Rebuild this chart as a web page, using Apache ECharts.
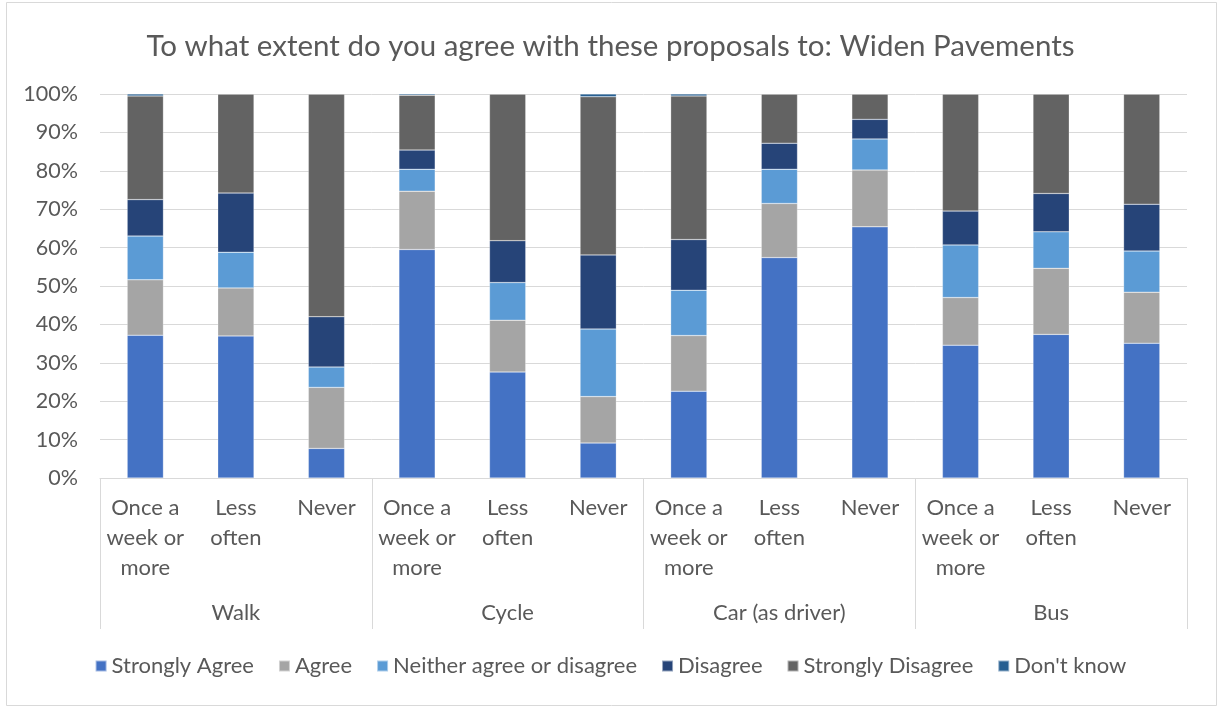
<!DOCTYPE html>
<html>
<head>
<meta charset="utf-8">
<script src="https://cdn.jsdelivr.net/npm/echarts@6/dist/echarts.min.js"></script>
<style>
  html, body { margin: 0; padding: 0; background: #fff; }
  #chart { width: 1221px; height: 707px; }
</style>
</head>
<body>
<div id="chart"></div>
<script>
// Frequency of travel within each mode
const categories = [
  'Once a\nweek or\nmore', 'Less\noften', 'Never',
  'Once a\nweek or\nmore', 'Less\noften', 'Never',
  'Once a\nweek or\nmore', 'Less\noften', 'Never',
  'Once a\nweek or\nmore', 'Less\noften', 'Never'
];
const groups = ['Walk', 'Cycle', 'Car (as driver)', 'Bus'];

// Share of responses (%) per category, in the order above
const stronglyAgree    = [37.2, 37.0, 7.7, 59.5, 27.6, 9.1, 22.6, 57.4, 65.4, 34.6, 37.4, 35.1];
const agree            = [14.4, 12.5, 15.9, 15.2, 13.5, 12.1, 14.5, 14.1, 14.8, 12.4, 17.2, 13.3];
const neither          = [11.4, 9.3, 5.3, 5.7, 9.8, 17.6, 11.8, 8.9, 8.1, 13.7, 9.5, 10.7];
const disagree         = [9.5, 15.4, 13.1, 5.0, 10.9, 19.3, 13.2, 6.8, 5.1, 8.8, 10.0, 12.2];
const stronglyDisagree = [27.0, 25.8, 58.0, 14.3, 38.2, 41.2, 37.4, 12.8, 6.6, 30.5, 25.9, 28.7];
const dontKnow         = [0.5, 0, 0, 0.3, 0, 0.7, 0.5, 0, 0, 0, 0, 0];

const seriesDefs = [
  ['Strongly Agree', stronglyAgree, '#4472C4'],
  ['Agree', agree, '#A5A5A5'],
  ['Neither agree or disagree', neither, '#5B9BD5'],
  ['Disagree', disagree, '#264478'],
  ['Strongly Disagree', stronglyDisagree, '#636363'],
  ["Don't know", dontKnow, '#255E91']
];

const FONT = 'Lato, "Open Sans", sans-serif';
const TEXT = '#595959';
const LINE = '#d9d9d9';

const chart = echarts.init(document.getElementById('chart'), null, { renderer: 'canvas' });

chart.setOption({
  animation: false,
  backgroundColor: '#fff',
  textStyle: { fontFamily: FONT, color: TEXT },
  title: {
    text: 'To what extent do you agree with these proposals to: Widen Pavements',
    left: 'center',
    top: 26,
    textStyle: { fontFamily: FONT, fontSize: 29.5, fontWeight: 'normal', color: TEXT }
  },
  legend: {
    top: 650,
    left: 'center',
    icon: 'rect',
    itemWidth: 11,
    itemHeight: 11,
    itemGap: 24,
    textStyle: { fontFamily: FONT, fontSize: 22, color: TEXT, padding: [0, 0, 0, 0] }
  },
  grid: { left: 100, right: 34, top: 94, bottom: 229, containLabel: false },
  xAxis: [
    {
      type: 'category',
      data: categories,
      axisLine: { show: true, lineStyle: { color: LINE, width: 1 } },
      axisTick: { show: false },
      axisLabel: {
        interval: 0,
        margin: 15,
        fontFamily: FONT,
        fontSize: 22,
        color: TEXT,
        lineHeight: 30,
        align: 'center'
      }
    },
    {
      type: 'category',
      data: groups,
      position: 'bottom',
      axisLine: { show: false },
      axisTick: { show: true, length: 151, lineStyle: { color: LINE, width: 1 } },
      axisLabel: {
        interval: 0,
        margin: 124,
        fontFamily: FONT,
        fontSize: 22,
        color: TEXT
      }
    }
  ],
  yAxis: {
    type: 'value',
    min: 0,
    max: 100,
    interval: 10,
    axisLine: { show: false },
    axisTick: { show: false },
    splitLine: { lineStyle: { color: LINE, width: 1 } },
    axisLabel: {
      formatter: '{value}%',
      margin: 22,
      fontFamily: FONT,
      fontSize: 21.5,
      color: TEXT
    }
  },
  series: seriesDefs.map(([name, values, color]) => ({
    name,
    type: 'bar',
    stack: 'total',
    xAxisIndex: 0,
    barWidth: '40%',
    data: values,
    itemStyle: { color, borderColor: 'rgba(255,255,255,0.5)', borderWidth: 0.5 }
  })),
  graphic: [
    {
      type: 'rect',
      shape: { x: 6.5, y: 2.5, width: 1210, height: 703 },
      style: { fill: 'none', stroke: LINE, lineWidth: 1 },
      silent: true,
      z: -1
    }
  ]
});
</script>
</body>
</html>
